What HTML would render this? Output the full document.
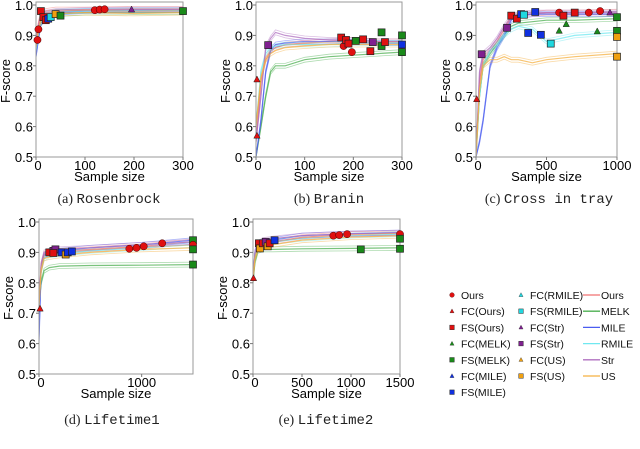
<!DOCTYPE html>
<html><head><meta charset="utf-8">
<style>
body{margin:0;background:#fff;}
svg{display:block;font-family:"Liberation Sans",sans-serif;}
.tick{font-size:13px;fill:#000;}
.axl{font-size:13px;fill:#000;}
.cap{font-size:14px;font-family:"Liberation Serif",serif;fill:#222;}
.capm{font-family:"Liberation Mono",monospace;}
.leg{font-size:10.5px;fill:#111;}
</style></head>
<body>
<svg id="fig" width="640" height="449" viewBox="0 0 640 449"></svg>
<script>
// ---------- data ----------
const methods = ["Ours","MELK","MILE","RMILE","Str","US"];
const lineColors = ["#f07070","#4caf50","#4a5cf0","#70e8f0","#b070c0","#f5b040"];
const markColors = {Ours:"#e01010",MELK:"#1a8a1a",MILE:"#1030e0",RMILE:"#20d8e0",Str:"#802090",US:"#f0a010"};

// panel a: Rosenbrock
const aX = [0,5,10,20,40,100,200,300];
const aY = {
 Ours:[0.88,0.94,0.97,0.98,0.985,0.985,0.987,0.987],
 MELK:[0.86,0.90,0.94,0.96,0.97,0.975,0.976,0.976],
 MILE:[0.83,0.89,0.94,0.96,0.975,0.98,0.982,0.982],
 RMILE:[0.85,0.91,0.95,0.97,0.978,0.98,0.982,0.982],
 Str:[0.87,0.93,0.96,0.975,0.98,0.983,0.985,0.985],
 US:[0.86,0.92,0.95,0.965,0.972,0.975,0.972,0.975]};
const aM = [[10,0.98,"FS","Ours"],[15,0.96,"FS","Ours"],[20,0.95,"FS","Ours"],[25,0.955,"FS","MILE"],[30,0.96,"FS","RMILE"],[40,0.97,"FS","US"],[50,0.965,"FS","MELK"],[120,0.983,"O","Ours"],[130,0.985,"O","Ours"],[140,0.986,"O","Ours"],[195,0.985,"FC","Str"],[5,0.92,"O","Ours"],[3,0.885,"O","Ours"],[300,0.98,"FS","MELK"]];

// panel b: Branin
const bX = [0,10,20,30,40,60,100,150,200,250,300];
const bY = {
 Ours:[0.55,0.75,0.82,0.85,0.86,0.87,0.875,0.88,0.885,0.88,0.88],
 MELK:[0.50,0.60,0.70,0.78,0.80,0.80,0.82,0.83,0.835,0.84,0.845],
 MILE:[0.50,0.62,0.78,0.85,0.87,0.875,0.88,0.88,0.88,0.875,0.875],
 RMILE:[0.60,0.78,0.84,0.86,0.865,0.87,0.87,0.87,0.875,0.875,0.875],
 Str:[0.55,0.70,0.86,0.89,0.91,0.90,0.89,0.885,0.885,0.88,0.88],
 US:[0.60,0.76,0.82,0.84,0.85,0.86,0.865,0.87,0.87,0.87,0.87]};
const bM = [[25,0.868,"FS","Str"],[175,0.893,"FS","Ours"],[180,0.865,"O","Ours"],[185,0.885,"FS","Ours"],[190,0.873,"FS","Ours"],[197,0.845,"O","Ours"],[205,0.882,"FS","MELK"],[220,0.887,"FS","Ours"],[235,0.848,"FS","Ours"],[240,0.878,"FS","Str"],[258,0.91,"FS","MELK"],[258,0.865,"FS","MELK"],[265,0.878,"FS","Ours"],[300,0.9,"FS","MELK"],[300,0.87,"FS","MILE"],[300,0.845,"FS","MELK"],[2,0.755,"FC","Ours"],[2,0.57,"FC","Ours"]];

// panel c: Cross in tray
const cX = [0,25,50,100,150,200,250,300,400,500,700,1000];
const cY = {
 Ours:[0.5,0.75,0.82,0.85,0.88,0.92,0.96,0.965,0.97,0.975,0.975,0.978],
 MELK:[0.5,0.70,0.80,0.84,0.87,0.90,0.93,0.94,0.945,0.95,0.95,0.955],
 MILE:[0.5,0.55,0.62,0.80,0.86,0.90,0.95,0.965,0.97,0.97,0.97,0.97],
 RMILE:[0.5,0.70,0.80,0.85,0.87,0.90,0.92,0.93,0.92,0.88,0.90,0.91],
 Str:[0.5,0.78,0.84,0.86,0.89,0.93,0.96,0.97,0.975,0.975,0.975,0.975],
 US:[0.5,0.72,0.80,0.82,0.82,0.83,0.82,0.82,0.81,0.82,0.83,0.84]};
const cM = [[40,0.838,"FS","Str"],[220,0.925,"FS","Str"],[250,0.965,"FS","Ours"],[290,0.955,"FS","Ours"],[320,0.97,"FS","MILE"],[340,0.968,"FS","RMILE"],[370,0.908,"FS","MILE"],[420,0.977,"FS","MILE"],[460,0.902,"FS","MILE"],[530,0.873,"FS","RMILE"],[590,0.975,"O","Ours"],[590,0.915,"FC","MELK"],[620,0.965,"FS","Ours"],[640,0.937,"FC","MELK"],[700,0.975,"FS","Ours"],[800,0.975,"O","Ours"],[860,0.913,"FC","MELK"],[880,0.98,"O","Ours"],[950,0.975,"FC","Str"],[1000,0.96,"FS","MELK"],[1000,0.915,"FS","MELK"],[1000,0.895,"FS","US"],[1000,0.83,"FS","US"],[5,0.69,"FC","Ours"]];

// panel d: Lifetime1
const dX = [0,20,50,100,200,500,1000,1500];
const dY = {
 Ours:[0.72,0.86,0.895,0.90,0.905,0.91,0.92,0.935],
 MELK:[0.72,0.80,0.84,0.85,0.855,0.857,0.858,0.86],
 MILE:[0.61,0.84,0.89,0.90,0.905,0.915,0.925,0.94],
 RMILE:[0.72,0.84,0.88,0.89,0.895,0.905,0.915,0.925],
 Str:[0.72,0.86,0.90,0.905,0.91,0.915,0.925,0.935],
 US:[0.72,0.84,0.88,0.885,0.89,0.90,0.91,0.915]};
const dM = [[100,0.9,"FS","Ours"],[140,0.905,"FS","Str"],[160,0.91,"FS","Str"],[140,0.898,"FS","Ours"],[220,0.9,"FS","MILE"],[260,0.893,"FS","US"],[280,0.9,"FS","MILE"],[320,0.903,"FS","MILE"],[880,0.912,"O","Ours"],[950,0.915,"O","Ours"],[1020,0.92,"O","Ours"],[1200,0.93,"O","Ours"],[1500,0.94,"FS","MELK"],[1500,0.925,"O","Ours"],[1500,0.91,"FS","MELK"],[1500,0.86,"FS","MELK"],[10,0.715,"FC","Ours"]];

// panel e: Lifetime2
const eX = [0,20,50,100,200,500,1000,1500];
const eY = {
 Ours:[0.81,0.89,0.92,0.93,0.935,0.95,0.96,0.962],
 MELK:[0.80,0.87,0.905,0.91,0.91,0.912,0.913,0.915],
 MILE:[0.81,0.90,0.93,0.935,0.94,0.955,0.962,0.965],
 RMILE:[0.81,0.89,0.92,0.93,0.935,0.945,0.955,0.96],
 Str:[0.81,0.90,0.93,0.94,0.945,0.955,0.962,0.965],
 US:[0.81,0.88,0.91,0.92,0.925,0.94,0.95,0.955]};
const eM = [[60,0.93,"FS","Ours"],[70,0.913,"FS","US"],[100,0.93,"FS","Ours"],[130,0.935,"FS","Str"],[150,0.92,"FS","US"],[170,0.93,"FS","Ours"],[220,0.94,"FS","MILE"],[820,0.955,"O","Ours"],[880,0.957,"O","Ours"],[960,0.96,"O","Ours"],[1100,0.91,"FS","MELK"],[1500,0.96,"O","Ours"],[1500,0.945,"FS","MELK"],[1500,0.912,"FS","MELK"],[5,0.815,"FC","Ours"]];

const panels = [
 {id:"rosenbrock",L:36,R:183,T:5,B:157,xmax:300,xt:[0,100,200,300],X:aX,Y:aY,M:aM,cap:"(a) ",capm:"Rosenbrock",capY:203,capX:109,xlY:181,tkY:170},
 {id:"branin",L:256,R:402,T:5,B:157,xmax:300,xt:[0,100,200,300],X:bX,Y:bY,M:bM,cap:"(b) ",capm:"Branin",capY:203,capX:329,xlY:181,tkY:170},
 {id:"cross-in-tray",L:476,R:617,T:5,B:157,xmax:1000,xt:[0,500,1000],X:cX,Y:cY,M:cM,cap:"(c) ",capm:"Cross in tray",capY:203,capX:549,xlY:181,tkY:170},
 {id:"lifetime1",L:39,R:193,T:222,B:374,xmax:1500,xt:[0,1000],X:dX,Y:dY,M:dM,cap:"(d) ",capm:"Lifetime1",capY:424,capX:112,xlY:398,tkY:387},
 {id:"lifetime2",L:253,R:400,T:222,B:374,xmax:1500,xt:[0,500,1000,1500],X:eX,Y:eY,M:eM,cap:"(e) ",capm:"Lifetime2",capY:424,capX:326,xlY:398,tkY:387}
];
const yTicks = ["0.5","0.6","0.7","0.8","0.9","1.0"];

const NS="http://www.w3.org/2000/svg";
const svg=document.getElementById('fig');
function el(tag,attrs,parent){const e=document.createElementNS(NS,tag);for(const k in attrs)e.setAttribute(k,attrs[k]);(parent||svg).appendChild(e);return e;}

function marker(g,x,y,type,m){
  const c=markColors[m];let e;
  if(type==="O"){e=el('circle',{cx:x,cy:y,r:3.6,fill:c,stroke:"#400",'stroke-width':0.5},g);}
  else if(type==="FS"){e=el('rect',{x:x-3.5,y:y-3.5,width:7,height:7,fill:c,stroke:"#222",'stroke-width':0.7},g);}
  else {e=el('polygon',{points:`${x},${y-3.5} ${x-3.2},${y+2.5} ${x+3.2},${y+2.5}`,fill:c,stroke:"#222",'stroke-width':0.5},g);}
  return e;
}

panels.forEach(p=>{
  const g=el('g',{});
  
  
  const sx=v=>p.L+(v/p.xmax)*(p.R-p.L);
  const sy=v=>p.B-(v-0.5)/0.5*(p.B-p.T);
  const clipId='clip-'+p.id;
  const cp=el('clipPath',{id:clipId},g);el('rect',{x:p.L,y:p.T-3,width:p.R-p.L,height:p.B-p.T+3},cp);
  const lg=el('g',{'clip-path':`url(#${clipId})`},g);
  methods.forEach((m,i)=>{
    const ys=p.Y[m];
    [0,-0.008,0.008].forEach((off,k)=>{
      const d=p.X.map((x,j)=>(j?'L':'M')+sx(x).toFixed(1)+','+sy(ys[j]+(j?off:0)).toFixed(1)).join(' ');
      const path=el('path',{d:d,fill:'none',stroke:lineColors[i],'stroke-width':k?0.8:1.2,opacity:k?0.45:0.75},lg);
      
      
    });
  });
  const frame=el('rect',{x:p.L,y:p.T-3,width:p.R-p.L,height:p.B-p.T+3,fill:'none',stroke:'#999','stroke-width':1},g);
  
  
  const mg=el('g',{},g);
  p.M.forEach(mk=>{
    const e=marker(mg,sx(mk[0]),sy(mk[1]),mk[2],mk[3]);
    
    
  });
  yTicks.forEach(t=>{
    const y=sy(parseFloat(t));
    el('line',{x1:p.L-3,x2:p.L,y1:y,y2:y,stroke:'#777'},g);
    const tx=el('text',{x:p.L-3,y:y+5,'text-anchor':'end',class:'tick'},g);tx.textContent=t;
    
    
  });
  p.xt.forEach(t=>{
    const x=sx(t);
    el('line',{x1:x,x2:x,y1:p.B,y2:p.B+3,stroke:'#777'},g);
    const tx=el('text',{x:x+(t===0?2:0),y:p.tkY,'text-anchor':'middle',class:'tick'},g);tx.textContent=t;
    
    
  });
  const xl=el('text',{x:(p.L+p.R)/2,y:p.xlY,'text-anchor':'middle',class:'axl'},g);xl.textContent='Sample size';
  
  
  const yl=el('text',{x:0,y:0,'text-anchor':'middle',class:'axl',transform:`translate(${p.L-26},${(p.T+p.B)/2}) rotate(-90)`},g);yl.textContent='F-score';
  
  
  const cap=el('text',{x:p.capX,y:p.capY,'text-anchor':'middle',class:'cap'},g);
  
  
  const t1=el('tspan',{},cap);t1.textContent=p.cap;
  const t2=el('tspan',{class:'capm'},cap);t2.textContent=p.capm;
});

// legend
const legMarkers=[["O","Ours","Ours"],["FC","Ours","FC(Ours)"],["FS","Ours","FS(Ours)"],["FC","MELK","FC(MELK)"],["FS","MELK","FS(MELK)"],["FC","MILE","FC(MILE)"],["FS","MILE","FS(MILE)"],["FC","RMILE","FC(RMILE)"],["FS","RMILE","FS(RMILE)"],["FC","Str","FC(Str)"],["FS","Str","FS(Str)"],["FC","US","FC(US)"],["FS","US","FS(US)"]];
const lg=el('g',{});


legMarkers.forEach((it,i)=>{
  const col=i<7?0:1,row=i<7?i:i-7;
  const x=col?521:452,y=295+row*16.2;
  const e=marker(lg,x,y,it[0],it[1]);
  e.setAttribute('transform',`translate(${x},${y}) scale(0.65) translate(${-x},${-y})`);
  const t=el('text',{x:x+9,y:y+4,class:'leg'},lg);t.textContent=it[2];
  
  
});
methods.forEach((m,i)=>{
  const y=295+i*16.2;
  el('line',{x1:583,x2:600,y1:y,y2:y,stroke:lineColors[i],'stroke-width':1.3},lg);
  const t=el('text',{x:601,y:y+4,class:'leg'},lg);t.textContent=m;
  
  
});
</script>
</body></html>
